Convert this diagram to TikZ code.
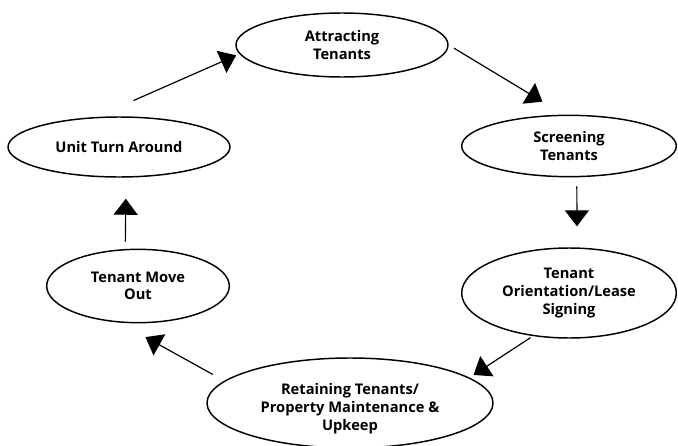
\documentclass[tikz,border=0pt]{standalone}
\usepackage{fontspec}
\setsansfont{Open Sans}
\usetikzlibrary{shapes.geometric,arrows.meta}

\begin{document}
\begin{tikzpicture}[x=0.75pt, y=-0.75pt,
        stage/.style={ellipse, draw, line width=1.1pt, inner sep=0pt, align=center,
            font=\sffamily\bfseries\fontsize{11}{13.2}\selectfont},
        flow/.style={-{Triangle[length=12pt, width=18pt]}, line width=0.9pt}]
    \useasboundingbox (0,0) rectangle (678,446);

    % the stages of the cycle
    \node[stage, minimum width=159pt, minimum height=48pt] (att) at (342,45) {Attracting\\Tenants};
    \node[stage, minimum width=161pt, minimum height=46pt] (scr) at (569,146) {Screening\\Tenants};
    \node[stage, minimum width=161pt, minimum height=67.5pt] (ori) at (569,293) {Tenant\\Orientation/Lease\\Signing};
    \node[stage, minimum width=214.5pt, minimum height=67.5pt] (ret) at (350,403) {\rule{0pt}{17pt}Retaining Tenants/\\Property Maintenance \&\\Upkeep};
    \node[stage, minimum width=137pt, minimum height=55pt] (mov) at (138,286) {Tenant Move\\Out};
    \node[stage, minimum width=166.5pt, minimum height=45pt] (utr) at (119,147) {Unit Turn Around};

    % arrows between the stages
    \foreach \from/\to/\pre/\post in {
        utr.127/att.185/30.5pt/2.6pt,
        att.0/scr.99/4.5pt/18.9pt,
        scr.284/ori.80/6.8pt/15.8pt,
        ori.230/ret.12/2.1pt/3.6pt,
        ret.170/mov.243/9.8pt/22.4pt,
        mov.109/utr.283/5.5pt/15.8pt
    }{
        \draw[flow, shorten <=\pre, shorten >=\post] (\from) -- (\to);
    }
\end{tikzpicture}
\end{document}
